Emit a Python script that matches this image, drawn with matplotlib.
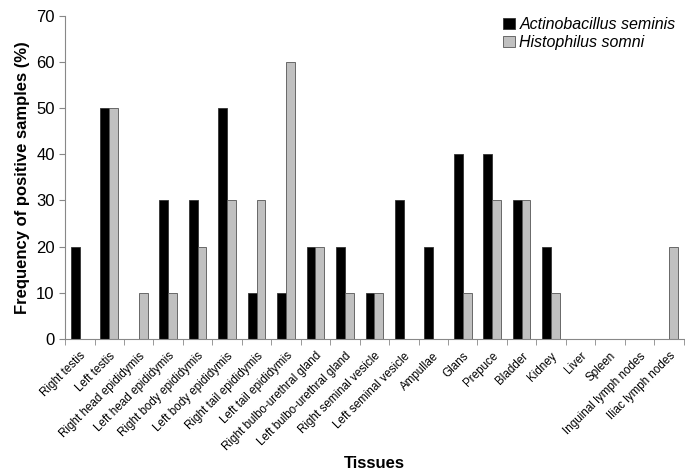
import numpy as np
import matplotlib.pyplot as plt

plt.rcParams['font.family'] = ['Liberation Sans', 'DejaVu Sans']

tissues = ["Right testis", "Left testis", "Right head epididymis", "Left head epididymis",
           "Right body epididymis", "Left body epididymis", "Right tail epididymis",
           "Left tail epididymis", "Right bulbo-urethral gland", "Left bulbo-urethral gland",
           "Right seminal vesicle", "Left seminal vesicle", "Ampullae", "Glans", "Prepuce",
           "Bladder", "Kidney", "Liver", "Spleen", "Inguinal lymph nodes", "Iliac lymph nodes"]
a_seminis = [20, 50, 0, 30, 30, 50, 10, 10, 20, 20, 10, 30, 20, 40, 40, 30, 20, 0, 0, 0, 0]
h_somni = [0, 50, 10, 10, 20, 30, 30, 60, 20, 10, 10, 0, 0, 10, 30, 30, 10, 0, 0, 0, 20]

fig = plt.figure(figsize=(6.85, 4.7), dpi=100)
ax = fig.add_axes([0.095, 0.279, 0.903, 0.687])

x = np.arange(len(tissues))
w = 0.3
ax.bar(x - w / 2, a_seminis, w, color='black', edgecolor='#333333', linewidth=0.6,
       label='Actinobacillus seminis')
ax.bar(x + w / 2, h_somni, w, color='#c0c0c0', edgecolor='#555555', linewidth=0.6,
       label='Histophilus somni')

ax.set_xlim(-0.5, len(tissues) - 0.5)
ax.set_ylim(0, 70)
ax.set_yticks(range(0, 71, 10))
ax.set_xticks(x)
ax.set_xticklabels(tissues, rotation=45, ha='right', rotation_mode='anchor', fontsize=8.4)
ax.set_xticks(np.arange(-0.5, len(tissues), 1), minor=True)
ax.tick_params(axis='x', which='major', length=0, pad=8)
ax.tick_params(axis='x', which='minor', length=4, color='#888888', direction='out')
ax.tick_params(axis='y', length=4, color='#888888', labelsize=12)

for s in ['top', 'right']:
    ax.spines[s].set_visible(False)
ax.spines['left'].set_color('#888888')
ax.spines['bottom'].set_color('#888888')

ax.set_ylabel('Frequency of positive samples (%)', fontsize=12, fontweight='bold')
ax.set_xlabel('Tissues', fontsize=12, fontweight='bold', labelpad=2)

leg = ax.legend(loc='upper right', bbox_to_anchor=(1.01, 1.04), frameon=False,
                prop={'style': 'italic', 'size': 11.5}, handlelength=0.7, handleheight=0.7,
                handletextpad=0.3, labelspacing=0.15)

fig.savefig('out.png', dpi=100)
